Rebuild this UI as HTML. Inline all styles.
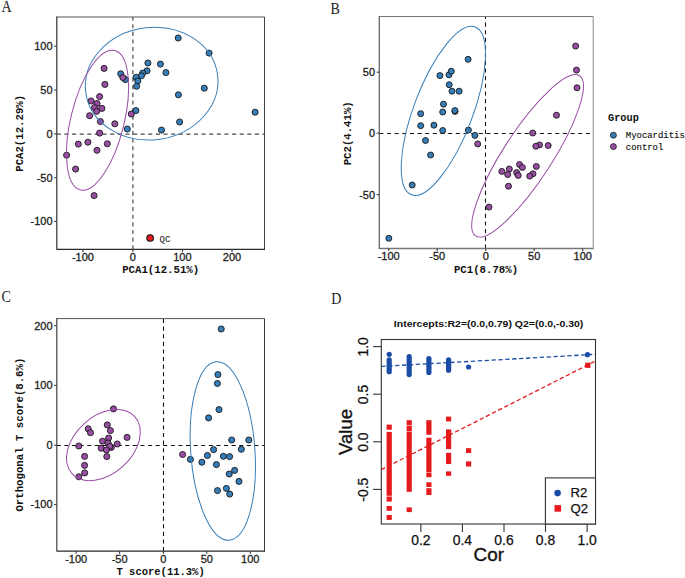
<!DOCTYPE html>
<html><head><meta charset="utf-8"><title>Figure</title>
<style>html,body{margin:0;padding:0;background:#fff;}body{width:685px;height:578px;overflow:hidden;}svg{display:block;}</style>
</head><body>
<svg width="685" height="578" viewBox="0 0 685 578"><rect width="685" height="578" fill="#fff"/><text transform="translate(1.6 11.9) scale(0.86 1)" font-family='"Liberation Serif", serif' font-size="16.3" fill="#222">A</text><text transform="translate(330.6 14.0) scale(0.86 1)" font-family='"Liberation Serif", serif' font-size="16.3" fill="#222">B</text><text transform="translate(1.6 302.4) scale(0.86 1)" font-family='"Liberation Serif", serif' font-size="16.3" fill="#222">C</text><text transform="translate(331.2 304.2) scale(0.86 1)" font-family='"Liberation Serif", serif' font-size="16.3" fill="#222">D</text><g><clipPath id="ca"><rect x="56.8" y="17.0" width="207.7" height="232.3"/></clipPath><g clip-path="url(#ca)"><line x1="56.8" y1="134.1" x2="264.5" y2="134.1" stroke="#4a4a4a" stroke-width="1.2" stroke-dasharray="4.1 3.52"/><line x1="132.9" y1="249.3" x2="132.9" y2="17.0" stroke="#4a4a4a" stroke-width="1.2" stroke-dasharray="4.1 3.52"/><circle cx="178.2" cy="38.0" r="3.05" fill="#377EB8" stroke="#111" stroke-width="0.85"/><circle cx="209.1" cy="53.1" r="3.05" fill="#377EB8" stroke="#111" stroke-width="0.85"/><circle cx="147.9" cy="63.0" r="3.05" fill="#377EB8" stroke="#111" stroke-width="0.85"/><circle cx="160.4" cy="64.1" r="3.05" fill="#377EB8" stroke="#111" stroke-width="0.85"/><circle cx="147.0" cy="70.8" r="3.05" fill="#377EB8" stroke="#111" stroke-width="0.85"/><circle cx="142.7" cy="73.1" r="3.05" fill="#377EB8" stroke="#111" stroke-width="0.85"/><circle cx="141.4" cy="75.8" r="3.05" fill="#377EB8" stroke="#111" stroke-width="0.85"/><circle cx="136.1" cy="77.3" r="3.05" fill="#377EB8" stroke="#111" stroke-width="0.85"/><circle cx="137.8" cy="81.0" r="3.05" fill="#377EB8" stroke="#111" stroke-width="0.85"/><circle cx="136.6" cy="86.3" r="3.05" fill="#377EB8" stroke="#111" stroke-width="0.85"/><circle cx="165.9" cy="72.6" r="3.05" fill="#377EB8" stroke="#111" stroke-width="0.85"/><circle cx="204.3" cy="88.2" r="3.05" fill="#377EB8" stroke="#111" stroke-width="0.85"/><circle cx="178.4" cy="94.8" r="3.05" fill="#377EB8" stroke="#111" stroke-width="0.85"/><circle cx="120.7" cy="73.8" r="3.05" fill="#377EB8" stroke="#111" stroke-width="0.85"/><circle cx="125.4" cy="79.6" r="3.05" fill="#377EB8" stroke="#111" stroke-width="0.85"/><circle cx="135.9" cy="110.6" r="3.05" fill="#377EB8" stroke="#111" stroke-width="0.85"/><circle cx="127.3" cy="129.0" r="3.05" fill="#377EB8" stroke="#111" stroke-width="0.85"/><circle cx="161.5" cy="130.1" r="3.05" fill="#377EB8" stroke="#111" stroke-width="0.85"/><circle cx="179.6" cy="122.0" r="3.05" fill="#377EB8" stroke="#111" stroke-width="0.85"/><circle cx="255.1" cy="112.2" r="3.05" fill="#377EB8" stroke="#111" stroke-width="0.85"/><circle cx="104.1" cy="68.4" r="3.05" fill="#984EA3" stroke="#111" stroke-width="0.85"/><circle cx="104.9" cy="84.4" r="3.05" fill="#984EA3" stroke="#111" stroke-width="0.85"/><circle cx="122.8" cy="77.5" r="3.05" fill="#984EA3" stroke="#111" stroke-width="0.85"/><circle cx="99.6" cy="96.6" r="3.05" fill="#984EA3" stroke="#111" stroke-width="0.85"/><circle cx="91.1" cy="101.0" r="3.05" fill="#984EA3" stroke="#111" stroke-width="0.85"/><circle cx="97.0" cy="103.5" r="3.05" fill="#984EA3" stroke="#111" stroke-width="0.85"/><circle cx="94.5" cy="107.6" r="3.05" fill="#984EA3" stroke="#111" stroke-width="0.85"/><circle cx="101.9" cy="108.4" r="3.05" fill="#984EA3" stroke="#111" stroke-width="0.85"/><circle cx="96.7" cy="111.3" r="3.05" fill="#984EA3" stroke="#111" stroke-width="0.85"/><circle cx="89.6" cy="115.7" r="3.05" fill="#984EA3" stroke="#111" stroke-width="0.85"/><circle cx="100.4" cy="121.6" r="3.05" fill="#984EA3" stroke="#111" stroke-width="0.85"/><circle cx="114.8" cy="123.8" r="3.05" fill="#984EA3" stroke="#111" stroke-width="0.85"/><circle cx="131.3" cy="114.0" r="3.05" fill="#984EA3" stroke="#111" stroke-width="0.85"/><circle cx="99.6" cy="133.1" r="3.05" fill="#984EA3" stroke="#111" stroke-width="0.85"/><circle cx="87.9" cy="142.2" r="3.05" fill="#984EA3" stroke="#111" stroke-width="0.85"/><circle cx="78.3" cy="144.1" r="3.05" fill="#984EA3" stroke="#111" stroke-width="0.85"/><circle cx="107.3" cy="143.8" r="3.05" fill="#984EA3" stroke="#111" stroke-width="0.85"/><circle cx="97.0" cy="150.3" r="3.05" fill="#984EA3" stroke="#111" stroke-width="0.85"/><circle cx="66.6" cy="155.2" r="3.05" fill="#984EA3" stroke="#111" stroke-width="0.85"/><circle cx="75.6" cy="169.1" r="3.05" fill="#984EA3" stroke="#111" stroke-width="0.85"/><circle cx="94.1" cy="195.6" r="3.05" fill="#984EA3" stroke="#111" stroke-width="0.85"/><ellipse cx="151.65" cy="83.63" rx="66.5" ry="56.18" transform="rotate(-8.22 151.65 83.63)" fill="none" stroke="#377EB8" stroke-width="1.0"/><ellipse cx="97.53" cy="120.27" rx="71.75" ry="26.67" transform="rotate(-76.16 97.53 120.27)" fill="none" stroke="#984EA3" stroke-width="1.0"/><circle cx="150.1" cy="238.0" r="3.3" fill="#E41A1C" stroke="#111" stroke-width="1.1"/></g><text x="159.6" y="242.4" font-family='"Liberation Mono", monospace' font-size="9" fill="#111">QC</text><line x1="56.8" y1="17.0" x2="264.5" y2="17.0" stroke="#555" stroke-width="1"/><line x1="264.5" y1="17.0" x2="264.5" y2="249.3" stroke="#444" stroke-width="1"/><line x1="56.8" y1="249.3" x2="265.0" y2="249.3" stroke="#2a2a2a" stroke-width="1.15"/><line x1="56.8" y1="16.5" x2="56.8" y2="249.8" stroke="#2a2a2a" stroke-width="1.15"/><line x1="54.199999999999996" y1="46.2" x2="56.8" y2="46.2" stroke="#3a3a3a" stroke-width="1.1"/><text x="52.599999999999994" y="50.1" font-family='"Liberation Sans", sans-serif' font-size="11" fill="#1e1e1e" stroke="#1e1e1e" stroke-width="0.3" text-anchor="end">100</text><line x1="54.199999999999996" y1="90.0" x2="56.8" y2="90.0" stroke="#3a3a3a" stroke-width="1.1"/><text x="52.599999999999994" y="93.9" font-family='"Liberation Sans", sans-serif' font-size="11" fill="#1e1e1e" stroke="#1e1e1e" stroke-width="0.3" text-anchor="end">50</text><line x1="54.199999999999996" y1="133.9" x2="56.8" y2="133.9" stroke="#3a3a3a" stroke-width="1.1"/><text x="52.599999999999994" y="137.8" font-family='"Liberation Sans", sans-serif' font-size="11" fill="#1e1e1e" stroke="#1e1e1e" stroke-width="0.3" text-anchor="end">0</text><line x1="54.199999999999996" y1="177.7" x2="56.8" y2="177.7" stroke="#3a3a3a" stroke-width="1.1"/><text x="52.599999999999994" y="181.6" font-family='"Liberation Sans", sans-serif' font-size="11" fill="#1e1e1e" stroke="#1e1e1e" stroke-width="0.3" text-anchor="end">-50</text><line x1="54.199999999999996" y1="221.4" x2="56.8" y2="221.4" stroke="#3a3a3a" stroke-width="1.1"/><text x="52.599999999999994" y="225.3" font-family='"Liberation Sans", sans-serif' font-size="11" fill="#1e1e1e" stroke="#1e1e1e" stroke-width="0.3" text-anchor="end">-100</text><line x1="82.9" y1="249.3" x2="82.9" y2="251.9" stroke="#3a3a3a" stroke-width="1.1"/><text x="82.9" y="260.7" font-family='"Liberation Sans", sans-serif' font-size="11" fill="#1e1e1e" stroke="#1e1e1e" stroke-width="0.3" text-anchor="middle">-100</text><line x1="132.9" y1="249.3" x2="132.9" y2="251.9" stroke="#3a3a3a" stroke-width="1.1"/><text x="132.9" y="260.7" font-family='"Liberation Sans", sans-serif' font-size="11" fill="#1e1e1e" stroke="#1e1e1e" stroke-width="0.3" text-anchor="middle">0</text><line x1="182.4" y1="249.3" x2="182.4" y2="251.9" stroke="#3a3a3a" stroke-width="1.1"/><text x="182.4" y="260.7" font-family='"Liberation Sans", sans-serif' font-size="11" fill="#1e1e1e" stroke="#1e1e1e" stroke-width="0.3" text-anchor="middle">100</text><line x1="232.0" y1="249.3" x2="232.0" y2="251.9" stroke="#3a3a3a" stroke-width="1.1"/><text x="232.0" y="260.7" font-family='"Liberation Sans", sans-serif' font-size="11" fill="#1e1e1e" stroke="#1e1e1e" stroke-width="0.3" text-anchor="middle">200</text><text x="160.7" y="273.2" font-family='"Liberation Mono", monospace' font-weight="bold" font-size="10.7" fill="#111" text-anchor="middle">PCA1(12.51%)</text><text transform="translate(23.3 133.3) rotate(-90)" font-family='"Liberation Mono", monospace' font-weight="bold" font-size="10.7" fill="#111" text-anchor="middle">PCA2(12.29%)</text></g><clipPath id="cb"><rect x="379.3" y="16.5" width="213.90000000000003" height="232.0"/></clipPath><g clip-path="url(#cb)"><line x1="379.3" y1="133.5" x2="593.2" y2="133.5" stroke="#111" stroke-width="1.1" stroke-dasharray="4.1 3.55"/><line x1="485.5" y1="248.5" x2="485.5" y2="16.5" stroke="#111" stroke-width="1.1" stroke-dasharray="4.1 3.55"/><circle cx="468.1" cy="59.3" r="3.0" fill="#377EB8" stroke="#111" stroke-width="0.85"/><circle cx="449.0" cy="74.8" r="3.0" fill="#377EB8" stroke="#111" stroke-width="0.85"/><circle cx="451.3" cy="71.2" r="3.0" fill="#377EB8" stroke="#111" stroke-width="0.85"/><circle cx="439.9" cy="75.6" r="3.0" fill="#377EB8" stroke="#111" stroke-width="0.85"/><circle cx="449.2" cy="84.7" r="3.0" fill="#377EB8" stroke="#111" stroke-width="0.85"/><circle cx="452.0" cy="91.2" r="3.0" fill="#377EB8" stroke="#111" stroke-width="0.85"/><circle cx="459.1" cy="91.2" r="3.0" fill="#377EB8" stroke="#111" stroke-width="0.85"/><circle cx="443.5" cy="104.2" r="3.0" fill="#377EB8" stroke="#111" stroke-width="0.85"/><circle cx="455.0" cy="111.4" r="3.0" fill="#377EB8" stroke="#111" stroke-width="0.85"/><circle cx="454.9" cy="110.6" r="3.0" fill="#377EB8" stroke="#111" stroke-width="0.85"/><circle cx="442.7" cy="112.0" r="3.0" fill="#377EB8" stroke="#111" stroke-width="0.85"/><circle cx="420.7" cy="113.7" r="3.0" fill="#377EB8" stroke="#111" stroke-width="0.85"/><circle cx="420.7" cy="125.7" r="3.0" fill="#377EB8" stroke="#111" stroke-width="0.85"/><circle cx="433.9" cy="125.2" r="3.0" fill="#377EB8" stroke="#111" stroke-width="0.85"/><circle cx="442.7" cy="130.5" r="3.0" fill="#377EB8" stroke="#111" stroke-width="0.85"/><circle cx="468.4" cy="130.1" r="3.0" fill="#377EB8" stroke="#111" stroke-width="0.85"/><circle cx="474.9" cy="135.4" r="3.0" fill="#377EB8" stroke="#111" stroke-width="0.85"/><circle cx="425.5" cy="140.5" r="3.0" fill="#377EB8" stroke="#111" stroke-width="0.85"/><circle cx="430.6" cy="155.0" r="3.0" fill="#377EB8" stroke="#111" stroke-width="0.85"/><circle cx="412.2" cy="185.0" r="3.0" fill="#377EB8" stroke="#111" stroke-width="0.85"/><circle cx="388.8" cy="238.3" r="3.0" fill="#377EB8" stroke="#111" stroke-width="0.85"/><circle cx="575.6" cy="46.1" r="3.0" fill="#984EA3" stroke="#111" stroke-width="0.85"/><circle cx="576.5" cy="70.1" r="3.0" fill="#984EA3" stroke="#111" stroke-width="0.85"/><circle cx="577.0" cy="87.8" r="3.0" fill="#984EA3" stroke="#111" stroke-width="0.85"/><circle cx="556.5" cy="115.2" r="3.0" fill="#984EA3" stroke="#111" stroke-width="0.85"/><circle cx="532.7" cy="133.0" r="3.0" fill="#984EA3" stroke="#111" stroke-width="0.85"/><circle cx="539.5" cy="144.9" r="3.0" fill="#984EA3" stroke="#111" stroke-width="0.85"/><circle cx="535.8" cy="146.3" r="3.0" fill="#984EA3" stroke="#111" stroke-width="0.85"/><circle cx="548.2" cy="145.5" r="3.0" fill="#984EA3" stroke="#111" stroke-width="0.85"/><circle cx="519.5" cy="164.5" r="3.0" fill="#984EA3" stroke="#111" stroke-width="0.85"/><circle cx="522.4" cy="167.4" r="3.0" fill="#984EA3" stroke="#111" stroke-width="0.85"/><circle cx="536.3" cy="166.5" r="3.0" fill="#984EA3" stroke="#111" stroke-width="0.85"/><circle cx="509.3" cy="169.0" r="3.0" fill="#984EA3" stroke="#111" stroke-width="0.85"/><circle cx="501.8" cy="171.4" r="3.0" fill="#984EA3" stroke="#111" stroke-width="0.85"/><circle cx="507.7" cy="174.5" r="3.0" fill="#984EA3" stroke="#111" stroke-width="0.85"/><circle cx="516.6" cy="172.6" r="3.0" fill="#984EA3" stroke="#111" stroke-width="0.85"/><circle cx="518.2" cy="175.4" r="3.0" fill="#984EA3" stroke="#111" stroke-width="0.85"/><circle cx="533.0" cy="173.8" r="3.0" fill="#984EA3" stroke="#111" stroke-width="0.85"/><circle cx="529.7" cy="176.1" r="3.0" fill="#984EA3" stroke="#111" stroke-width="0.85"/><circle cx="508.5" cy="186.2" r="3.0" fill="#984EA3" stroke="#111" stroke-width="0.85"/><circle cx="489.0" cy="207.1" r="3.0" fill="#984EA3" stroke="#111" stroke-width="0.85"/><circle cx="477.7" cy="143.9" r="3.0" fill="#984EA3" stroke="#111" stroke-width="0.85"/><ellipse cx="443.34" cy="110.86" rx="89.78" ry="29.41" transform="rotate(-69.17 443.34 110.86)" fill="none" stroke="#377EB8" stroke-width="1.0"/><ellipse cx="527.59" cy="155.84" rx="95.46" ry="24.31" transform="rotate(-57.04 527.59 155.84)" fill="none" stroke="#984EA3" stroke-width="1.0"/></g><line x1="379.3" y1="16.5" x2="593.2" y2="16.5" stroke="#777" stroke-width="1"/><line x1="593.2" y1="16.5" x2="593.2" y2="248.5" stroke="#888" stroke-width="1"/><line x1="379.3" y1="248.5" x2="593.7" y2="248.5" stroke="#777" stroke-width="1.3"/><line x1="379.3" y1="16.0" x2="379.3" y2="249.0" stroke="#666" stroke-width="1.3"/><line x1="376.7" y1="72.2" x2="379.3" y2="72.2" stroke="#3a3a3a" stroke-width="1.1"/><text x="375.09999999999997" y="76.10000000000001" font-family='"Liberation Sans", sans-serif' font-size="11" fill="#1e1e1e" stroke="#1e1e1e" stroke-width="0.3" text-anchor="end">50</text><line x1="376.7" y1="133.2" x2="379.3" y2="133.2" stroke="#3a3a3a" stroke-width="1.1"/><text x="375.09999999999997" y="137.1" font-family='"Liberation Sans", sans-serif' font-size="11" fill="#1e1e1e" stroke="#1e1e1e" stroke-width="0.3" text-anchor="end">0</text><line x1="376.7" y1="194.6" x2="379.3" y2="194.6" stroke="#3a3a3a" stroke-width="1.1"/><text x="375.09999999999997" y="198.5" font-family='"Liberation Sans", sans-serif' font-size="11" fill="#1e1e1e" stroke="#1e1e1e" stroke-width="0.3" text-anchor="end">-50</text><line x1="388.7" y1="248.5" x2="388.7" y2="251.1" stroke="#3a3a3a" stroke-width="1.1"/><text x="388.7" y="259.9" font-family='"Liberation Sans", sans-serif' font-size="11" fill="#1e1e1e" stroke="#1e1e1e" stroke-width="0.3" text-anchor="middle">-100</text><line x1="437.2" y1="248.5" x2="437.2" y2="251.1" stroke="#3a3a3a" stroke-width="1.1"/><text x="437.2" y="259.9" font-family='"Liberation Sans", sans-serif' font-size="11" fill="#1e1e1e" stroke="#1e1e1e" stroke-width="0.3" text-anchor="middle">-50</text><line x1="485.7" y1="248.5" x2="485.7" y2="251.1" stroke="#3a3a3a" stroke-width="1.1"/><text x="485.7" y="259.9" font-family='"Liberation Sans", sans-serif' font-size="11" fill="#1e1e1e" stroke="#1e1e1e" stroke-width="0.3" text-anchor="middle">0</text><line x1="534.2" y1="248.5" x2="534.2" y2="251.1" stroke="#3a3a3a" stroke-width="1.1"/><text x="534.2" y="259.9" font-family='"Liberation Sans", sans-serif' font-size="11" fill="#1e1e1e" stroke="#1e1e1e" stroke-width="0.3" text-anchor="middle">50</text><line x1="582.7" y1="248.5" x2="582.7" y2="251.1" stroke="#3a3a3a" stroke-width="1.1"/><text x="582.7" y="259.9" font-family='"Liberation Sans", sans-serif' font-size="11" fill="#1e1e1e" stroke="#1e1e1e" stroke-width="0.3" text-anchor="middle">100</text><text x="486" y="272.8" font-family='"Liberation Mono", monospace' font-weight="bold" font-size="10.7" fill="#111" text-anchor="middle">PC1(8.78%)</text><text transform="translate(351 133.3) rotate(-90)" font-family='"Liberation Mono", monospace' font-weight="bold" font-size="10.7" fill="#111" text-anchor="middle">PC2(4.41%)</text><text x="608" y="121" font-family='"Liberation Mono", monospace' font-weight="bold" font-size="10.3" fill="#111">Group</text><circle cx="613.4" cy="135.2" r="3.0" fill="#377EB8" stroke="#111" stroke-width="0.75"/><circle cx="613.4" cy="146.6" r="3.0" fill="#984EA3" stroke="#111" stroke-width="0.75"/><text x="625.8" y="138.4" font-family='"Liberation Mono", monospace' font-size="8.95" fill="#111" stroke="#111" stroke-width="0.15">Myocarditis</text><text x="625.8" y="149.8" font-family='"Liberation Mono", monospace' font-size="8.95" fill="#111" stroke="#111" stroke-width="0.15">control</text><clipPath id="cc"><rect x="56.8" y="318.6" width="207.7" height="232.5"/></clipPath><g clip-path="url(#cc)"><line x1="56.8" y1="445.5" x2="264.5" y2="445.5" stroke="#111" stroke-width="1.1" stroke-dasharray="4.1 3.5"/><line x1="163.5" y1="551.1" x2="163.5" y2="318.6" stroke="#111" stroke-width="1.1" stroke-dasharray="4.1 3.5"/><circle cx="221.2" cy="329.0" r="3.05" fill="#377EB8" stroke="#111" stroke-width="0.85"/><circle cx="217.9" cy="374.6" r="3.05" fill="#377EB8" stroke="#111" stroke-width="0.85"/><circle cx="217.4" cy="383.5" r="3.05" fill="#377EB8" stroke="#111" stroke-width="0.85"/><circle cx="219.0" cy="409.6" r="3.05" fill="#377EB8" stroke="#111" stroke-width="0.85"/><circle cx="208.6" cy="417.9" r="3.05" fill="#377EB8" stroke="#111" stroke-width="0.85"/><circle cx="231.7" cy="440.0" r="3.05" fill="#377EB8" stroke="#111" stroke-width="0.85"/><circle cx="248.8" cy="440.0" r="3.05" fill="#377EB8" stroke="#111" stroke-width="0.85"/><circle cx="213.6" cy="449.6" r="3.05" fill="#377EB8" stroke="#111" stroke-width="0.85"/><circle cx="241.3" cy="449.3" r="3.05" fill="#377EB8" stroke="#111" stroke-width="0.85"/><circle cx="207.4" cy="455.5" r="3.05" fill="#377EB8" stroke="#111" stroke-width="0.85"/><circle cx="223.4" cy="456.3" r="3.05" fill="#377EB8" stroke="#111" stroke-width="0.85"/><circle cx="229.6" cy="456.6" r="3.05" fill="#377EB8" stroke="#111" stroke-width="0.85"/><circle cx="190.4" cy="459.4" r="3.05" fill="#377EB8" stroke="#111" stroke-width="0.85"/><circle cx="201.9" cy="462.2" r="3.05" fill="#377EB8" stroke="#111" stroke-width="0.85"/><circle cx="216.4" cy="464.6" r="3.05" fill="#377EB8" stroke="#111" stroke-width="0.85"/><circle cx="234.6" cy="470.4" r="3.05" fill="#377EB8" stroke="#111" stroke-width="0.85"/><circle cx="229.2" cy="474.0" r="3.05" fill="#377EB8" stroke="#111" stroke-width="0.85"/><circle cx="239.0" cy="481.4" r="3.05" fill="#377EB8" stroke="#111" stroke-width="0.85"/><circle cx="217.5" cy="490.6" r="3.05" fill="#377EB8" stroke="#111" stroke-width="0.85"/><circle cx="226.4" cy="488.4" r="3.05" fill="#377EB8" stroke="#111" stroke-width="0.85"/><circle cx="229.7" cy="494.1" r="3.05" fill="#377EB8" stroke="#111" stroke-width="0.85"/><circle cx="113.5" cy="408.9" r="3.05" fill="#984EA3" stroke="#111" stroke-width="0.85"/><circle cx="107.3" cy="424.9" r="3.05" fill="#984EA3" stroke="#111" stroke-width="0.85"/><circle cx="110.4" cy="430.6" r="3.05" fill="#984EA3" stroke="#111" stroke-width="0.85"/><circle cx="88.2" cy="428.8" r="3.05" fill="#984EA3" stroke="#111" stroke-width="0.85"/><circle cx="90.5" cy="432.7" r="3.05" fill="#984EA3" stroke="#111" stroke-width="0.85"/><circle cx="127.1" cy="437.4" r="3.05" fill="#984EA3" stroke="#111" stroke-width="0.85"/><circle cx="108.6" cy="438.0" r="3.05" fill="#984EA3" stroke="#111" stroke-width="0.85"/><circle cx="102.5" cy="441.2" r="3.05" fill="#984EA3" stroke="#111" stroke-width="0.85"/><circle cx="108.0" cy="443.0" r="3.05" fill="#984EA3" stroke="#111" stroke-width="0.85"/><circle cx="117.2" cy="444.0" r="3.05" fill="#984EA3" stroke="#111" stroke-width="0.85"/><circle cx="78.8" cy="446.0" r="3.05" fill="#984EA3" stroke="#111" stroke-width="0.85"/><circle cx="111.3" cy="447.4" r="3.05" fill="#984EA3" stroke="#111" stroke-width="0.85"/><circle cx="109.8" cy="446.3" r="3.05" fill="#984EA3" stroke="#111" stroke-width="0.85"/><circle cx="101.2" cy="448.2" r="3.05" fill="#984EA3" stroke="#111" stroke-width="0.85"/><circle cx="106.4" cy="450.0" r="3.05" fill="#984EA3" stroke="#111" stroke-width="0.85"/><circle cx="106.8" cy="456.6" r="3.05" fill="#984EA3" stroke="#111" stroke-width="0.85"/><circle cx="84.6" cy="456.4" r="3.05" fill="#984EA3" stroke="#111" stroke-width="0.85"/><circle cx="84.6" cy="465.4" r="3.05" fill="#984EA3" stroke="#111" stroke-width="0.85"/><circle cx="84.7" cy="472.9" r="3.05" fill="#984EA3" stroke="#111" stroke-width="0.85"/><circle cx="78.8" cy="476.8" r="3.05" fill="#984EA3" stroke="#111" stroke-width="0.85"/><circle cx="182.6" cy="454.5" r="3.05" fill="#984EA3" stroke="#111" stroke-width="0.85"/><ellipse cx="103.4" cy="445.11" rx="42.39" ry="28.85" transform="rotate(-42.28 103.4 445.11)" fill="none" stroke="#984EA3" stroke-width="1.0"/><ellipse cx="222.8" cy="451.05" rx="89.42" ry="32.11" transform="rotate(85.89 222.8 451.05)" fill="none" stroke="#377EB8" stroke-width="1.0"/></g><line x1="56.8" y1="318.6" x2="264.5" y2="318.6" stroke="#555" stroke-width="1"/><line x1="264.5" y1="318.6" x2="264.5" y2="551.1" stroke="#3a3a3a" stroke-width="1"/><line x1="56.8" y1="551.1" x2="265.0" y2="551.1" stroke="#2a2a2a" stroke-width="1.15"/><line x1="56.8" y1="318.1" x2="56.8" y2="551.6" stroke="#3a3a3a" stroke-width="1.15"/><line x1="54.199999999999996" y1="325.7" x2="56.8" y2="325.7" stroke="#3a3a3a" stroke-width="1.1"/><text x="52.599999999999994" y="329.59999999999997" font-family='"Liberation Sans", sans-serif' font-size="11" fill="#1e1e1e" stroke="#1e1e1e" stroke-width="0.3" text-anchor="end">200</text><line x1="54.199999999999996" y1="385.4" x2="56.8" y2="385.4" stroke="#3a3a3a" stroke-width="1.1"/><text x="52.599999999999994" y="389.29999999999995" font-family='"Liberation Sans", sans-serif' font-size="11" fill="#1e1e1e" stroke="#1e1e1e" stroke-width="0.3" text-anchor="end">100</text><line x1="54.199999999999996" y1="445.3" x2="56.8" y2="445.3" stroke="#3a3a3a" stroke-width="1.1"/><text x="52.599999999999994" y="449.2" font-family='"Liberation Sans", sans-serif' font-size="11" fill="#1e1e1e" stroke="#1e1e1e" stroke-width="0.3" text-anchor="end">0</text><line x1="54.199999999999996" y1="504.5" x2="56.8" y2="504.5" stroke="#3a3a3a" stroke-width="1.1"/><text x="52.599999999999994" y="508.4" font-family='"Liberation Sans", sans-serif' font-size="11" fill="#1e1e1e" stroke="#1e1e1e" stroke-width="0.3" text-anchor="end">-100</text><line x1="76.2" y1="551.1" x2="76.2" y2="553.7" stroke="#3a3a3a" stroke-width="1.1"/><text x="76.2" y="562.5" font-family='"Liberation Sans", sans-serif' font-size="11" fill="#1e1e1e" stroke="#1e1e1e" stroke-width="0.3" text-anchor="middle">-100</text><line x1="119.6" y1="551.1" x2="119.6" y2="553.7" stroke="#3a3a3a" stroke-width="1.1"/><text x="119.6" y="562.5" font-family='"Liberation Sans", sans-serif' font-size="11" fill="#1e1e1e" stroke="#1e1e1e" stroke-width="0.3" text-anchor="middle">-50</text><line x1="163.4" y1="551.1" x2="163.4" y2="553.7" stroke="#3a3a3a" stroke-width="1.1"/><text x="163.4" y="562.5" font-family='"Liberation Sans", sans-serif' font-size="11" fill="#1e1e1e" stroke="#1e1e1e" stroke-width="0.3" text-anchor="middle">0</text><line x1="206.8" y1="551.1" x2="206.8" y2="553.7" stroke="#3a3a3a" stroke-width="1.1"/><text x="206.8" y="562.5" font-family='"Liberation Sans", sans-serif' font-size="11" fill="#1e1e1e" stroke="#1e1e1e" stroke-width="0.3" text-anchor="middle">50</text><line x1="250.3" y1="551.1" x2="250.3" y2="553.7" stroke="#3a3a3a" stroke-width="1.1"/><text x="250.3" y="562.5" font-family='"Liberation Sans", sans-serif' font-size="11" fill="#1e1e1e" stroke="#1e1e1e" stroke-width="0.3" text-anchor="middle">100</text><text x="160.6" y="575" font-family='"Liberation Mono", monospace' font-weight="bold" font-size="10.5" fill="#111" text-anchor="middle">T score(11.3%)</text><text transform="translate(23.3 434.6) rotate(-90)" font-family='"Liberation Mono", monospace' font-weight="bold" font-size="10.7" fill="#111" text-anchor="middle">Orthogonal T score(8.6%)</text><text transform="translate(488.6 327.4) scale(1.25 1)" font-family='"Liberation Sans", sans-serif' font-weight="bold" font-size="8.4" fill="#111" text-anchor="middle">Intercepts:R2=(0.0,0.79) Q2=(0.0,-0.30)</text><clipPath id="cd"><rect x="381.3" y="339.5" width="214.2" height="184.5"/></clipPath><g clip-path="url(#cd)"><rect x="386.6" y="424.6" width="5.2" height="5.1" fill="#e41a1c"/><rect x="386.6" y="431.9" width="5.2" height="63.9" fill="#e41a1c"/><rect x="386.6" y="496.5" width="5.2" height="5.1" fill="#e41a1c"/><rect x="386.6" y="506.0" width="5.2" height="4.8" fill="#e41a1c"/><rect x="386.6" y="515.0" width="5.2" height="4.9" fill="#e41a1c"/><rect x="406.6" y="420.2" width="5.2" height="5.1" fill="#e41a1c"/><rect x="406.6" y="425.8" width="5.2" height="5.2" fill="#e41a1c"/><rect x="406.6" y="431.5" width="5.2" height="60.3" fill="#e41a1c"/><rect x="406.6" y="507.4" width="5.2" height="4.7" fill="#e41a1c"/><rect x="426.3" y="420.2" width="5.2" height="14.6" fill="#e41a1c"/><rect x="426.3" y="437.7" width="5.2" height="34.3" fill="#e41a1c"/><rect x="426.3" y="472.5" width="5.2" height="4.7" fill="#e41a1c"/><rect x="426.3" y="482.3" width="5.2" height="4.7" fill="#e41a1c"/><rect x="426.3" y="488.2" width="5.2" height="6.8" fill="#e41a1c"/><rect x="446.0" y="416.6" width="5.2" height="4.8" fill="#e41a1c"/><rect x="446.0" y="429.4" width="5.2" height="19.7" fill="#e41a1c"/><rect x="446.0" y="452.8" width="5.2" height="11.2" fill="#e41a1c"/><rect x="446.0" y="471.4" width="5.2" height="4.4" fill="#e41a1c"/><rect x="466.0" y="448.2" width="5.2" height="4.8" fill="#e41a1c"/><rect x="466.0" y="461.4" width="5.2" height="5.1" fill="#e41a1c"/><rect x="585.2" y="362.7" width="5.2" height="5.2" fill="#e41a1c"/><rect x="386.60" y="357.2" width="5.2" height="17.1" rx="2.6" ry="2.6" fill="#1b4ca6"/><rect x="406.60" y="353.9" width="5.2" height="23.3" rx="2.6" ry="2.6" fill="#1b4ca6"/><rect x="426.30" y="356.0" width="5.2" height="19.0" rx="2.6" ry="2.6" fill="#1b4ca6"/><rect x="446.00" y="357.2" width="5.2" height="15.6" rx="2.6" ry="2.6" fill="#1b4ca6"/><circle cx="389.2" cy="354.3" r="2.6" fill="#1b4ca6"/><circle cx="468.6" cy="367" r="2.6" fill="#1b4ca6"/><circle cx="587.5" cy="354.7" r="2.6" fill="#1b4ca6"/><line x1="381.3" y1="366.4" x2="595.5" y2="354.3" stroke="#1b4ca6" stroke-width="1.3" stroke-dasharray="4.3 2.6"/><line x1="381.3" y1="469.6" x2="595.5" y2="361.0" stroke="#e41a1c" stroke-width="1.3" stroke-dasharray="4.3 2.6"/></g><rect x="381.3" y="339.5" width="214.2" height="184.5" fill="none" stroke="#333" stroke-width="1.1"/><rect x="545.4" y="477.9" width="50.1" height="46.1" fill="#fff" stroke="#333" stroke-width="1.1"/><circle cx="557.6" cy="493.1" r="3.3" fill="#1b4ca6"/><rect x="554.5" y="505.1" width="6.6" height="6.6" fill="#e41a1c"/><text x="570.4" y="497.2" font-family='"Liberation Sans", sans-serif' font-size="13.2" fill="#111" stroke="#111" stroke-width="0.25">R2</text><text x="570.4" y="512.6" font-family='"Liberation Sans", sans-serif' font-size="13.2" fill="#111" stroke="#111" stroke-width="0.25">Q2</text><line x1="420.9" y1="524.0" x2="420.9" y2="531.9" stroke="#333" stroke-width="1.1"/><text x="420.9" y="545.2" font-family='"Liberation Sans", sans-serif' font-size="13.9" fill="#111" stroke="#111" stroke-width="0.25" text-anchor="middle">0.2</text><line x1="462.4" y1="524.0" x2="462.4" y2="531.9" stroke="#333" stroke-width="1.1"/><text x="462.4" y="545.2" font-family='"Liberation Sans", sans-serif' font-size="13.9" fill="#111" stroke="#111" stroke-width="0.25" text-anchor="middle">0.4</text><line x1="504.0" y1="524.0" x2="504.0" y2="531.9" stroke="#333" stroke-width="1.1"/><text x="504.0" y="545.2" font-family='"Liberation Sans", sans-serif' font-size="13.9" fill="#111" stroke="#111" stroke-width="0.25" text-anchor="middle">0.6</text><line x1="545.5" y1="524.0" x2="545.5" y2="531.9" stroke="#333" stroke-width="1.1"/><text x="545.5" y="545.2" font-family='"Liberation Sans", sans-serif' font-size="13.9" fill="#111" stroke="#111" stroke-width="0.25" text-anchor="middle">0.8</text><line x1="587.1" y1="524.0" x2="587.1" y2="531.9" stroke="#333" stroke-width="1.1"/><text x="587.1" y="545.2" font-family='"Liberation Sans", sans-serif' font-size="13.9" fill="#111" stroke="#111" stroke-width="0.25" text-anchor="middle">1.0</text><line x1="373.1" y1="489.4" x2="381.3" y2="489.4" stroke="#333" stroke-width="1.1"/><text transform="translate(368.3 489.7) rotate(-90)" font-family='"Liberation Sans", sans-serif' font-size="13.9" fill="#111" stroke="#111" stroke-width="0.25" text-anchor="middle">-0.5</text><line x1="373.1" y1="441.8" x2="381.3" y2="441.8" stroke="#333" stroke-width="1.1"/><text transform="translate(368.3 442.1) rotate(-90)" font-family='"Liberation Sans", sans-serif' font-size="13.9" fill="#111" stroke="#111" stroke-width="0.25" text-anchor="middle">0.0</text><line x1="373.1" y1="394.2" x2="381.3" y2="394.2" stroke="#333" stroke-width="1.1"/><text transform="translate(368.3 394.5) rotate(-90)" font-family='"Liberation Sans", sans-serif' font-size="13.9" fill="#111" stroke="#111" stroke-width="0.25" text-anchor="middle">0.5</text><line x1="373.1" y1="346.6" x2="381.3" y2="346.6" stroke="#333" stroke-width="1.1"/><text transform="translate(368.3 346.9) rotate(-90)" font-family='"Liberation Sans", sans-serif' font-size="13.9" fill="#111" stroke="#111" stroke-width="0.25" text-anchor="middle">1.0</text><text x="488.8" y="561.3" font-family='"Liberation Sans", sans-serif' font-size="18.9" fill="#111" stroke="#111" stroke-width="0.35" text-anchor="middle">Cor</text><text transform="translate(351.5 432) rotate(-90)" font-family='"Liberation Sans", sans-serif' font-size="18.5" fill="#111" stroke="#111" stroke-width="0.35" text-anchor="middle">Value</text></svg>
</body></html>
